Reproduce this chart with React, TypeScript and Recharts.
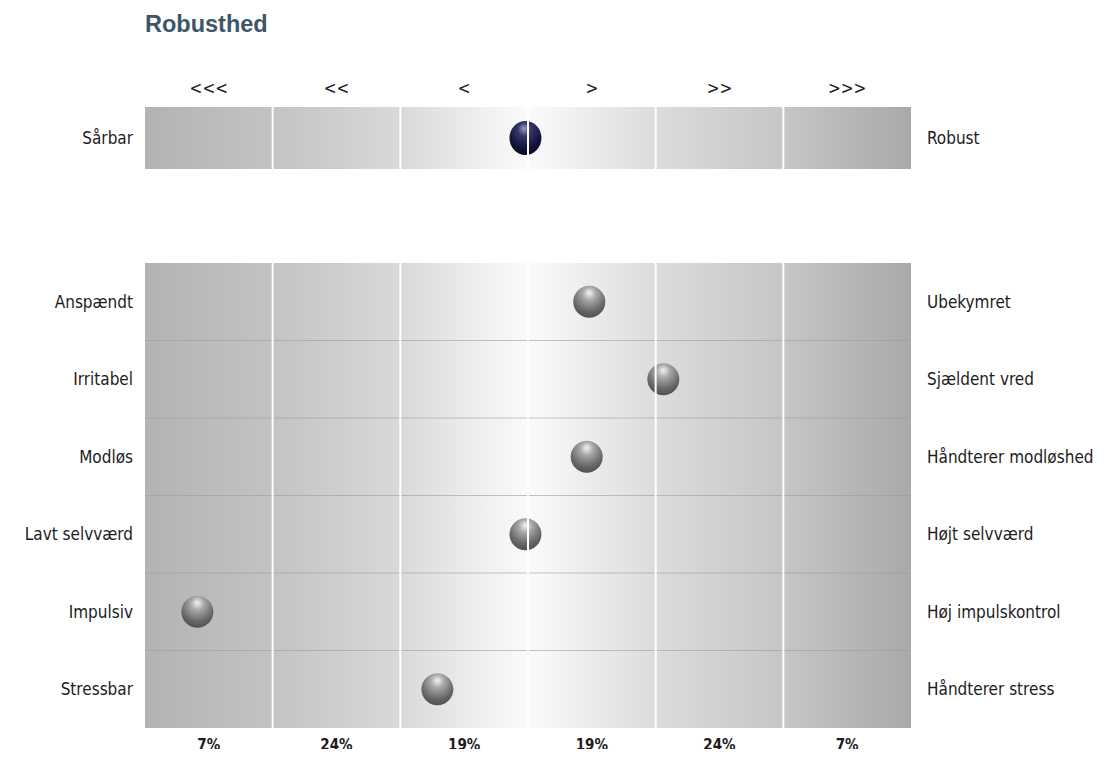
import { ReferenceArea, ReferenceLine, Scatter, ScatterChart, XAxis, YAxis } from "recharts";

// zone headers (top) and population shares (bottom)
const zoneMarks = ["<<<", "<<", "<", ">", ">>", ">>>"];
const zoneShares = ["7%", "24%", "19%", "19%", "24%", "7%"];
const zoneEdges = [1, 2, 3, 4, 5];

// overall score
const overallLeft = ["Sårbar"];
const overallRight = ["Robust"];
const overallScore = [2.98];

// facets
const facetLeft = ["Anspændt", "Irritabel", "Modløs", "Lavt selvværd", "Impulsiv", "Stressbar"];
const facetRight = [
  "Ubekymret",
  "Sjældent vred",
  "Håndterer modløshed",
  "Højt selvværd",
  "Høj impulskontrol",
  "Håndterer stress",
];
const facetScores = [3.48, 4.06, 3.46, 2.98, 0.41, 2.29];

const labelFont = { fill: "#1c1c1c", fontSize: 17, fontFamily: "'DejaVu Sans Condensed', 'DejaVu Sans', sans-serif" };
const zoneTicks = zoneMarks.map((_, i) => i + 0.5);

const overallData = overallScore.map((x, i) => ({ x, y: i + 0.5 }));
const facetData = facetScores.map((x, i) => ({ x, y: i + 0.5 }));

function Background({ id }: { id: string }) {
  return (
    <defs>
      <linearGradient id={id} x1="0" y1="0" x2="1" y2="0">
        <stop offset="0%" stopColor="#b3b3b3" />
        <stop offset="16.6%" stopColor="#c3c3c3" />
        <stop offset="33.3%" stopColor="#d9d9d9" />
        <stop offset="50%" stopColor="#fbfbfb" />
        <stop offset="66.6%" stopColor="#dcdcdc" />
        <stop offset="83.3%" stopColor="#c6c6c6" />
        <stop offset="100%" stopColor="#a9a9a9" />
      </linearGradient>
      <radialGradient id="ballGrey" cx="50%" cy="30%" r="70%" fx="50%" fy="22%">
        <stop offset="0%" stopColor="#f4f4f4" />
        <stop offset="30%" stopColor="#a8a8a8" />
        <stop offset="75%" stopColor="#676767" />
        <stop offset="100%" stopColor="#505050" />
      </radialGradient>
      <radialGradient id="ballNavy" cx="50%" cy="30%" r="70%" fx="45%" fy="22%">
        <stop offset="0%" stopColor="#9a9ac0" />
        <stop offset="30%" stopColor="#35356a" />
        <stop offset="75%" stopColor="#12123a" />
        <stop offset="100%" stopColor="#080820" />
      </radialGradient>
    </defs>
  );
}

const GreyBall = (p: any) => <circle cx={p.cx} cy={p.cy} r={16} fill="url(#ballGrey)" />;
const NavyBall = (p: any) => <ellipse cx={p.cx} cy={p.cy} rx={16} ry={17} fill="url(#ballNavy)" />;
const NoMark = () => <g />;

function OverallChart() {
  return (
    <ScatterChart width={1111} height={200} margin={{ top: 77, right: 10, bottom: 31, left: 5 }}>
      <Background id="bgTop" />
      <XAxis
        type="number"
        dataKey="x"
        orientation="top"
        domain={[0, 6]}
        ticks={zoneTicks}
        interval={0}
        tickFormatter={(v) => zoneMarks[Math.floor(v)]}
        axisLine={false}
        tickLine={false}
        tick={labelFont}
        height={30}
        tickMargin={7}
      />
      <YAxis
        yAxisId="l"
        type="number"
        dataKey="y"
        domain={[0, 1]}
        ticks={[0.5]}
        tickFormatter={(v) => overallLeft[Math.floor(v)]}
        axisLine={false}
        tickLine={false}
        tick={labelFont}
        width={140}
        tickMargin={6}
      />
      <YAxis
        yAxisId="r"
        orientation="right"
        type="number"
        dataKey="y"
        domain={[0, 1]}
        ticks={[0.5]}
        tickFormatter={(v) => overallRight[Math.floor(v)]}
        axisLine={false}
        tickLine={false}
        tick={labelFont}
        width={190}
        tickMargin={10}
      />
      <ReferenceArea yAxisId="l" x1={0} x2={6} fill="url(#bgTop)" fillOpacity={1} stroke="none" />
      <Scatter yAxisId="r" data={overallData} shape={NoMark} isAnimationActive={false} />
      <Scatter yAxisId="l" data={overallData} shape={NavyBall} isAnimationActive={false} />
      {zoneEdges.map((e) => (
        <ReferenceLine key={e} yAxisId="l" x={e} stroke="#ffffff" strokeWidth={2} zIndex={700} />
      ))}
    </ScatterChart>
  );
}

function FacetChart() {
  const rowTicks = facetLeft.map((_, i) => i + 0.5);
  const rowEdges = facetLeft.slice(1).map((_, i) => i + 1);
  return (
    <ScatterChart width={1111} height={557} margin={{ top: 63, right: 10, bottom: 5, left: 5 }}>
      <Background id="bgBottom" />
      <XAxis
        type="number"
        dataKey="x"
        domain={[0, 6]}
        ticks={zoneTicks}
        interval={0}
        tickFormatter={(v) => zoneShares[Math.floor(v)]}
        axisLine={false}
        tickLine={false}
        tick={{ ...labelFont, fontSize: 15, fontWeight: "bold" }}
        height={24}
        tickMargin={5}
      />
      <YAxis
        yAxisId="l"
        type="number"
        dataKey="y"
        reversed
        domain={[0, 6]}
        ticks={rowTicks}
        interval={0}
        tickFormatter={(v) => facetLeft[Math.floor(v)]}
        axisLine={false}
        tickLine={false}
        tick={labelFont}
        width={140}
        tickMargin={6}
      />
      <YAxis
        yAxisId="r"
        orientation="right"
        type="number"
        dataKey="y"
        reversed
        domain={[0, 6]}
        ticks={rowTicks}
        interval={0}
        tickFormatter={(v) => facetRight[Math.floor(v)]}
        axisLine={false}
        tickLine={false}
        tick={labelFont}
        width={190}
        tickMargin={10}
      />
      <ReferenceArea yAxisId="l" x1={0} x2={6} fill="url(#bgBottom)" fillOpacity={1} stroke="none" />
      {rowEdges.map((r) => (
        <ReferenceLine key={"r" + r} yAxisId="l" y={r} stroke="#9c9c9c" strokeOpacity={0.6} strokeWidth={1} />
      ))}
      <Scatter yAxisId="r" data={facetData} shape={NoMark} isAnimationActive={false} />
      <Scatter yAxisId="l" data={facetData} shape={GreyBall} isAnimationActive={false} />
      {zoneEdges.map((e) => (
        <ReferenceLine key={e} yAxisId="l" x={e} stroke="#ffffff" strokeWidth={2} zIndex={700} />
      ))}
    </ScatterChart>
  );
}

export default function App() {
  return (
    <div style={{ position: "relative", width: 1111, height: 757, margin: -8, background: "#fff" }}>
      <div
        style={{
          position: "absolute",
          left: 145,
          top: 13,
          fontFamily: "'Liberation Sans', Arial, sans-serif",
          fontWeight: "bold",
          fontSize: 23.5,
          lineHeight: 1,
          color: "#3e5667",
        }}
      >
        Robusthed
      </div>
      <div style={{ position: "absolute", left: 0, top: 0 }}>
        <OverallChart />
      </div>
      <div style={{ position: "absolute", left: 0, top: 200 }}>
        <FacetChart />
      </div>
    </div>
  );
}
